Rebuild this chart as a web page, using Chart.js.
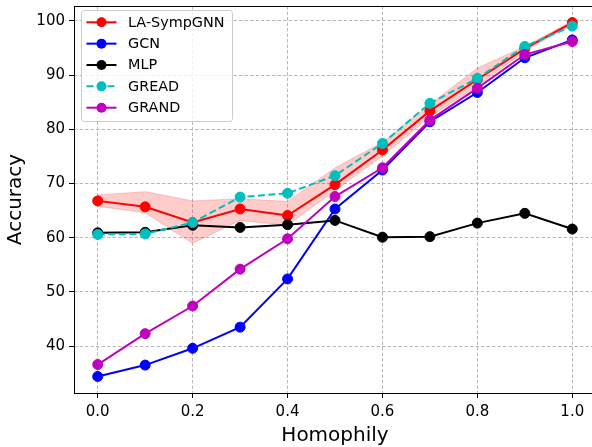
<!DOCTYPE html>
<html>
<head>
<meta charset="utf-8">
<script src="https://cdn.jsdelivr.net/npm/chart.js@4/dist/chart.umd.min.js"></script>
<style>
  html, body { margin: 0; padding: 0; background: #fff; overflow: hidden; }
  #wrap { position: relative; width: 602px; height: 447px; }
</style>
</head>
<body>
<div id="wrap"><canvas id="c" width="602" height="447"></canvas></div>
<script>
// ---- data ----
const homophily = [0.0, 0.1, 0.2, 0.3, 0.4, 0.5, 0.6, 0.7, 0.8, 0.9, 1.0];
const laSympGNN = [66.8, 65.7, 62.8, 65.3, 64.1, 69.8, 76.2, 83.4, 89.2, 94.9, 99.7];
const laSympUpper = [67.9, 68.5, 66.8, 67.2, 66.7, 72.9, 77.6, 84.6, 91.3, 95.3, 100.0];
const laSympLower = [65.8, 64.6, 59.0, 63.2, 62.3, 68.7, 75.1, 82.3, 88.0, 94.4, 99.4];
const gcn = [34.4, 36.5, 39.6, 43.5, 52.4, 65.3, 72.5, 81.4, 86.8, 93.2, 96.5];
const mlp = [60.9, 61.0, 62.3, 61.9, 62.4, 63.2, 60.1, 60.2, 62.7, 64.5, 61.6];
const gread = [60.6, 60.7, 62.8, 67.5, 68.2, 71.45, 77.4, 84.8, 89.4, 95.3, 99.05];
const grand = [36.6, 42.3, 47.4, 54.2, 59.8, 67.6, 72.9, 81.7, 87.6, 93.8, 96.2];
const seriesNames = ['LA-SympGNN', 'GCN', 'MLP', 'GREAD', 'GRAND'];
const xTicks = [0.0, 0.2, 0.4, 0.6, 0.8, 1.0];
const xTickLabels = ['0.0', '0.2', '0.4', '0.6', '0.8', '1.0'];
const yTicks = [40, 50, 60, 70, 80, 90, 100];
const yTickLabels = ['40', '50', '60', '70', '80', '90', '100'];
const xTitle = 'Homophily';
const yTitle = 'Accuracy';

const pts = arr => arr.map((v, i) => ({ x: homophily[i], y: v }));

function lineDs(label, data, color, order, dash) {
  return {
    label, data: pts(data), borderColor: color, backgroundColor: color,
    borderWidth: 2, pointRadius: 5, pointHoverRadius: 5, pointBorderWidth: 1,
    pointBackgroundColor: color, pointBorderColor: color,
    borderDash: dash || [], fill: false, tension: 0, order, showLegend: true
  };
}

const datasets = [
  lineDs(seriesNames[0], laSympGNN, '#ff0000', 5),
  lineDs(seriesNames[1], gcn, '#0000ff', 4),
  lineDs(seriesNames[2], mlp, '#000000', 3),
  lineDs(seriesNames[3], gread, '#00bfbf', 2, [7, 3.5]),
  lineDs(seriesNames[4], grand, '#bf00bf', 1),
  { label: 'band-lower', data: pts(laSympLower), borderColor: 'rgba(255,0,0,0.2)', borderWidth: 1,
    pointRadius: 0, fill: false, order: 7, backgroundColor: 'rgba(255,0,0,0.2)' },
  { label: 'band-upper', data: pts(laSympUpper), borderColor: 'rgba(255,0,0,0.2)', borderWidth: 1,
    pointRadius: 0, fill: 5, order: 6, backgroundColor: 'rgba(255,0,0,0.2)' }
];

const FONT = 'DejaVu Sans';

const framePlugin = {
  id: 'frame',
  afterDatasetsDraw(chart) {
    const { ctx, chartArea: a } = chart;
    ctx.save();
    ctx.strokeStyle = '#000';
    ctx.lineWidth = 1;
    ctx.strokeRect(Math.round(a.left) + 0.5, Math.round(a.top) + 0.5,
      Math.round(a.right - a.left), Math.round(a.bottom - a.top));
    ctx.restore();
  }
};

const legendPlugin = {
  id: 'mplLegend',
  afterDraw(chart) {
    const ctx = chart.ctx;
    const x0 = 81, y0 = 10, w = 151, h = 111, r = 3;
    ctx.save();
    ctx.beginPath();
    ctx.roundRect(x0 + 0.5, y0 + 0.5, w, h, r);
    ctx.fillStyle = 'rgba(255,255,255,0.8)';
    ctx.fill();
    ctx.strokeStyle = '#cccccc';
    ctx.lineWidth = 1;
    ctx.stroke();
    const items = chart.data.datasets.filter(d => d.showLegend);
    items.forEach((d, i) => {
      const cy = 22.3 + i * 21.35;
      ctx.strokeStyle = d.borderColor;
      ctx.lineWidth = 2;
      ctx.setLineDash(d.borderDash || []);
      ctx.beginPath();
      ctx.moveTo(86.5, cy);
      ctx.lineTo(116.5, cy);
      ctx.stroke();
      ctx.setLineDash([]);
      ctx.beginPath();
      ctx.arc(101.5, cy, 5, 0, Math.PI * 2);
      ctx.fillStyle = d.pointBackgroundColor;
      ctx.fill();
      ctx.fillStyle = '#000';
      ctx.font = '14.4px "' + FONT + '"';
      ctx.textBaseline = 'middle';
      ctx.textAlign = 'left';
      ctx.fillText(d.label, 128, cy + 0.5);
    });
    ctx.restore();
  }
};

new Chart(document.getElementById('c'), {
  type: 'line',
  data: { datasets },
  options: {
    responsive: false,
    animation: false,
    devicePixelRatio: 1,
    layout: { padding: { left: 0, top: 0, right: 0, bottom: 0 } },
    plugins: { legend: { display: false }, tooltip: { enabled: false } },
    elements: { line: { borderCapStyle: 'butt' } },
    scales: {
      x: {
        type: 'linear', min: -0.05, max: 1.05,
        afterFit: s => { s.height = 54; s.paddingLeft = 0; s.paddingRight = 0; },
        afterBuildTicks: s => { s.ticks = xTicks.map(v => ({ value: v })); },
        ticks: {
          callback: (v, i) => xTickLabels[i],
          font: { family: FONT, size: 15 }, color: '#000', padding: 5, maxRotation: 0
        },
        grid: { color: '#b8b8b8', lineWidth: 1, tickLength: 5, tickColor: '#000', drawTicks: true },
        border: { display: false, dash: [3.5, 2] },
        title: { display: true, text: xTitle, font: { family: FONT, size: 20, lineHeight: 1.1 }, color: '#000', padding: { top: 0, bottom: 0 } }
      },
      y: {
        type: 'linear', min: 31.35, max: 102.76,
        afterFit: s => { s.width = 74; s.paddingTop = 0; s.paddingBottom = 0; },
        afterBuildTicks: s => { s.ticks = yTicks.map(v => ({ value: v })); },
        ticks: {
          callback: (v, i) => yTickLabels[i],
          font: { family: FONT, size: 15 }, color: '#000', padding: 4
        },
        grid: { color: '#b8b8b8', lineWidth: 1, tickLength: 5, tickColor: '#000', drawTicks: true },
        border: { display: false, dash: [3.5, 2] },
        title: { display: true, text: yTitle, font: { family: FONT, size: 20 }, color: '#000', padding: { top: 4, bottom: 0 } }
      }
    }
  },
  plugins: [framePlugin, legendPlugin]
});
</script>
</body>
</html>
